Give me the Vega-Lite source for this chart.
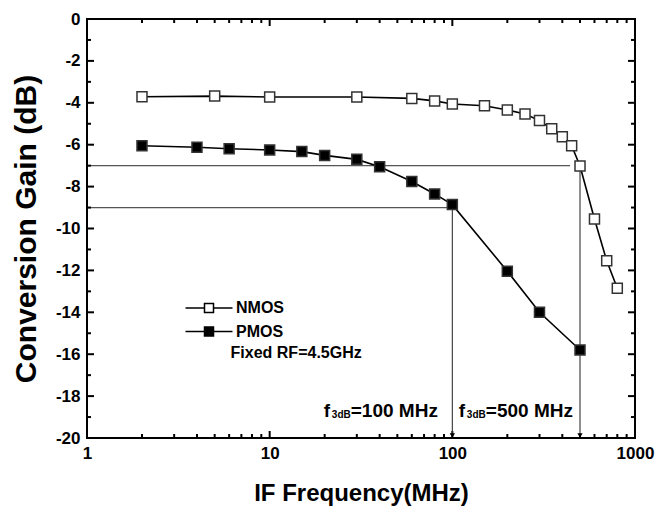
{
  "$schema": "https://vega.github.io/schema/vega-lite/v6.json",
  "width": 548,
  "height": 419,
  "autosize": {"type": "none"},
  "padding": {"left": 87, "top": 19, "right": 24, "bottom": 75},
  "background": "white",
  "config": {
    "view": {"stroke": "black", "strokeWidth": 2},
    "font": "Liberation Sans",
    "axis": {"domain": false, "grid": false}
  },
  "datasets": {
    "series": [
      {"series": "NMOS", "f": 2, "g": -3.71},
      {"series": "NMOS", "f": 5, "g": -3.68},
      {"series": "NMOS", "f": 10, "g": -3.72},
      {"series": "NMOS", "f": 30, "g": -3.72},
      {"series": "NMOS", "f": 60, "g": -3.79},
      {"series": "NMOS", "f": 80, "g": -3.91},
      {"series": "NMOS", "f": 100, "g": -4.06},
      {"series": "NMOS", "f": 150, "g": -4.14},
      {"series": "NMOS", "f": 200, "g": -4.34},
      {"series": "NMOS", "f": 250, "g": -4.53},
      {"series": "NMOS", "f": 300, "g": -4.85},
      {"series": "NMOS", "f": 350, "g": -5.24},
      {"series": "NMOS", "f": 400, "g": -5.62},
      {"series": "NMOS", "f": 450, "g": -6.05},
      {"series": "NMOS", "f": 500, "g": -7.02},
      {"series": "NMOS", "f": 600, "g": -9.55},
      {"series": "NMOS", "f": 700, "g": -11.54},
      {"series": "NMOS", "f": 800, "g": -12.85},
      {"series": "PMOS", "f": 2, "g": -6.05},
      {"series": "PMOS", "f": 4, "g": -6.12},
      {"series": "PMOS", "f": 6, "g": -6.19},
      {"series": "PMOS", "f": 10, "g": -6.25},
      {"series": "PMOS", "f": 15, "g": -6.33},
      {"series": "PMOS", "f": 20, "g": -6.51},
      {"series": "PMOS", "f": 30, "g": -6.7},
      {"series": "PMOS", "f": 40, "g": -7.05},
      {"series": "PMOS", "f": 60, "g": -7.76},
      {"series": "PMOS", "f": 80, "g": -8.35},
      {"series": "PMOS", "f": 100, "g": -8.86},
      {"series": "PMOS", "f": 200, "g": -12.04},
      {"series": "PMOS", "f": 300, "g": -14.0},
      {"series": "PMOS", "f": 500, "g": -15.8}
    ],
    "xticks": [
      {"v": 1, "kind": "major"}, {"v": 2, "kind": "minor"}, {"v": 3, "kind": "minor"}, {"v": 4, "kind": "minor"}, {"v": 5, "kind": "minor"},
      {"v": 6, "kind": "minor"}, {"v": 7, "kind": "minor"}, {"v": 8, "kind": "minor"}, {"v": 9, "kind": "minor"},
      {"v": 10, "kind": "major"}, {"v": 20, "kind": "minor"}, {"v": 30, "kind": "minor"}, {"v": 40, "kind": "minor"}, {"v": 50, "kind": "minor"},
      {"v": 60, "kind": "minor"}, {"v": 70, "kind": "minor"}, {"v": 80, "kind": "minor"}, {"v": 90, "kind": "minor"},
      {"v": 100, "kind": "major"}, {"v": 200, "kind": "minor"}, {"v": 300, "kind": "minor"}, {"v": 400, "kind": "minor"}, {"v": 500, "kind": "minor"},
      {"v": 600, "kind": "minor"}, {"v": 700, "kind": "minor"}, {"v": 800, "kind": "minor"}, {"v": 900, "kind": "minor"},
      {"v": 1000, "kind": "major"}
    ],
    "yticks": [
      {"v": -20, "kind": "major"}, {"v": -19, "kind": "minor"}, {"v": -18, "kind": "major"}, {"v": -17, "kind": "minor"},
      {"v": -16, "kind": "major"}, {"v": -15, "kind": "minor"}, {"v": -14, "kind": "major"}, {"v": -13, "kind": "minor"},
      {"v": -12, "kind": "major"}, {"v": -11, "kind": "minor"}, {"v": -10, "kind": "major"}, {"v": -9, "kind": "minor"},
      {"v": -8, "kind": "major"}, {"v": -7, "kind": "minor"}, {"v": -6, "kind": "major"}, {"v": -5, "kind": "minor"},
      {"v": -4, "kind": "major"}, {"v": -3, "kind": "minor"}, {"v": -2, "kind": "major"}, {"v": -1, "kind": "minor"},
      {"v": 0, "kind": "major"}
    ],
    "hlines": [
      {"from": 1, "to": 441, "g": -7},
      {"from": 1, "to": 100, "g": -9}
    ],
    "vlines": [
      {"f": 100, "top": -9, "bottom": -19.88},
      {"f": 500, "top": -7, "bottom": -19.88}
    ],
    "annMain": [
      {"f": 108.5, "g": -19.0, "t": "f"},
      {"f": 152.6, "g": -19.0, "t": "=500 MHz"},
      {"f": 19.8, "g": -19.0, "t": "f"},
      {"f": 27.8, "g": -19.0, "t": "=100 MHz"}
    ],
    "annSub": [
      {"f": 120.1, "g": -19.05, "t": "3dB"},
      {"f": 21.9, "g": -19.05, "t": "3dB"}
    ],
    "note": [
      {"f": 6.11, "g": -16.2, "t": "Fixed RF=4.5GHz"}
    ]
  },
  "resolve": {"axis": {"x": "independent", "y": "independent"}},
  "layer": [
    {
      "data": {"name": "hlines"},
      "mark": {"type": "rule", "color": "#555555", "strokeWidth": 1.2},
      "encoding": {
        "x": {
          "field": "from", "type": "quantitative",
          "scale": {"type": "log", "domain": [1, 1000], "nice": false},
          "axis": {
            "orient": "bottom",
            "title": "IF Frequency(MHz)",
            "values": [1, 10, 100, 1000],
            "labelExpr": "''+datum.value",
            "ticks": false, "tickSize": 0,
            "labelFont": "Liberation Sans", "labelFontSize": 17, "labelFontWeight": "bold", "labelColor": "black",
            "labelFlush": false, "labelPadding": 7,
            "titleFont": "Liberation Sans", "titleFontSize": 24, "titleFontWeight": "bold", "titleColor": "black",
            "titlePadding": 20
          }
        },
        "x2": {"field": "to"},
        "y": {
          "field": "g", "type": "quantitative",
          "scale": {"domain": [-20, 0], "nice": false, "zero": false},
          "axis": {
            "orient": "left",
            "title": "Conversion Gain (dB)",
            "values": [-20,-18,-16,-14,-12,-10,-8,-6,-4,-2,0],
            "labelExpr": "''+datum.value",
            "ticks": false, "tickSize": 0,
            "labelFont": "Liberation Sans", "labelFontSize": 17, "labelFontWeight": "bold", "labelColor": "black",
            "labelFlush": false, "labelPadding": 7,
            "titleFont": "Liberation Sans", "titleFontSize": 30, "titleFontWeight": "bold", "titleColor": "black",
            "titlePadding": 14
          }
        }
      }
    },
    {
      "data": {"name": "xticks"},
      "transform": [{"filter": "datum.kind == 'major'"}],
      "mark": {"type": "rule", "color": "black", "strokeWidth": 2},
      "encoding": {
        "x": {"field": "v", "type": "quantitative", "axis": null},
        "y": {"datum": -20, "type": "quantitative", "axis": null},
        "y2": {"datum": -19.666}
      }
    },
    {
      "data": {"name": "xticks"},
      "transform": [{"filter": "datum.kind == 'minor'"}],
      "mark": {"type": "rule", "color": "black", "strokeWidth": 2},
      "encoding": {
        "x": {"field": "v", "type": "quantitative", "axis": null},
        "y": {"datum": -20, "type": "quantitative", "axis": null},
        "y2": {"datum": -19.809}
      }
    },
    {
      "data": {"name": "xticks"},
      "transform": [{"filter": "datum.kind == 'major'"}],
      "mark": {"type": "rule", "color": "black", "strokeWidth": 2},
      "encoding": {
        "x": {"field": "v", "type": "quantitative", "axis": null},
        "y": {"datum": 0, "type": "quantitative", "axis": null},
        "y2": {"datum": -0.334}
      }
    },
    {
      "data": {"name": "xticks"},
      "transform": [{"filter": "datum.kind == 'minor'"}],
      "mark": {"type": "rule", "color": "black", "strokeWidth": 2},
      "encoding": {
        "x": {"field": "v", "type": "quantitative", "axis": null},
        "y": {"datum": 0, "type": "quantitative", "axis": null},
        "y2": {"datum": -0.191}
      }
    },
    {
      "data": {"name": "yticks"},
      "transform": [{"filter": "datum.kind == 'major'"}],
      "mark": {"type": "rule", "color": "black", "strokeWidth": 2},
      "encoding": {
        "y": {"field": "v", "type": "quantitative", "axis": null},
        "x": {"datum": 1, "type": "quantitative", "axis": null},
        "x2": {"datum": 1.0924}
      }
    },
    {
      "data": {"name": "yticks"},
      "transform": [{"filter": "datum.kind == 'minor'"}],
      "mark": {"type": "rule", "color": "black", "strokeWidth": 2},
      "encoding": {
        "y": {"field": "v", "type": "quantitative", "axis": null},
        "x": {"datum": 1, "type": "quantitative", "axis": null},
        "x2": {"datum": 1.0518}
      }
    },
    {
      "data": {"name": "yticks"},
      "transform": [{"filter": "datum.kind == 'major'"}],
      "mark": {"type": "rule", "color": "black", "strokeWidth": 2},
      "encoding": {
        "y": {"field": "v", "type": "quantitative", "axis": null},
        "x": {"datum": 1000, "type": "quantitative", "axis": null},
        "x2": {"datum": 915.4}
      }
    },
    {
      "data": {"name": "yticks"},
      "transform": [{"filter": "datum.kind == 'minor'"}],
      "mark": {"type": "rule", "color": "black", "strokeWidth": 2},
      "encoding": {
        "y": {"field": "v", "type": "quantitative", "axis": null},
        "x": {"datum": 1000, "type": "quantitative", "axis": null},
        "x2": {"datum": 950.8}
      }
    },
    {
      "data": {"name": "vlines"},
      "mark": {"type": "rule", "color": "#333333", "strokeWidth": 1.1},
      "encoding": {
        "x": {"field": "f", "type": "quantitative", "axis": null},
        "y": {"field": "top", "type": "quantitative", "axis": null},
        "y2": {"field": "bottom"}
      }
    },
    {
      "data": {"name": "vlines"},
      "mark": {"type": "point", "shape": "triangle-down", "size": 28, "filled": true, "color": "black", "opacity": 1},
      "encoding": {
        "x": {"field": "f", "type": "quantitative", "axis": null},
        "y": {"field": "bottom", "type": "quantitative", "axis": null}
      }
    },
    {
      "data": {"name": "series"},
      "mark": {"type": "line", "strokeWidth": 1.6, "color": "black"},
      "encoding": {
        "x": {"field": "f", "type": "quantitative", "axis": null},
        "y": {"field": "g", "type": "quantitative", "axis": null},
        "detail": {"field": "series", "type": "nominal"}
      }
    },
    {
      "data": {"name": "series"},
      "mark": {"type": "point", "shape": "square", "size": 100, "strokeWidth": 1.5, "stroke": "#333333", "opacity": 1},
      "encoding": {
        "x": {"field": "f", "type": "quantitative", "axis": null},
        "y": {"field": "g", "type": "quantitative", "axis": null},
        "fill": {
          "field": "series", "type": "nominal",
          "scale": {"domain": ["NMOS", "PMOS"], "range": ["#ffffff", "#000000"]},
          "legend": {
            "orient": "none", "legendX": 114, "legendY": 281, "title": null,
            "padding": 0, "offset": 0,
            "symbolType": "M-4.7,0H-0.9M0.9,0H4.7M-0.9,-0.9H0.9V0.9H-0.9Z",
            "symbolSize": 100, "symbolStrokeColor": "black", "symbolStrokeWidth": 1.5, "symbolOpacity": 1,
            "labelFont": "Liberation Sans", "labelFontSize": 16, "labelFontWeight": "bold", "labelColor": "black",
            "labelOffset": 19, "rowPadding": 7.5
          }
        }
      }
    },
    {
      "data": {"name": "annMain"},
      "mark": {"type": "text", "align": "left", "baseline": "alphabetic", "font": "Liberation Sans", "fontSize": 19, "fontWeight": "bold", "color": "black"},
      "encoding": {
        "x": {"field": "f", "type": "quantitative", "axis": null},
        "y": {"field": "g", "type": "quantitative", "axis": null},
        "text": {"field": "t"}
      }
    },
    {
      "data": {"name": "annSub"},
      "mark": {"type": "text", "align": "left", "baseline": "alphabetic", "font": "Liberation Sans", "fontSize": 10, "fontWeight": "bold", "color": "black"},
      "encoding": {
        "x": {"field": "f", "type": "quantitative", "axis": null},
        "y": {"field": "g", "type": "quantitative", "axis": null},
        "text": {"field": "t"}
      }
    },
    {
      "data": {"name": "note"},
      "mark": {"type": "text", "align": "left", "baseline": "alphabetic", "font": "Liberation Sans", "fontSize": 16, "fontWeight": "bold", "color": "black"},
      "encoding": {
        "x": {"field": "f", "type": "quantitative", "axis": null},
        "y": {"field": "g", "type": "quantitative", "axis": null},
        "text": {"field": "t"}
      }
    }
  ]
}
